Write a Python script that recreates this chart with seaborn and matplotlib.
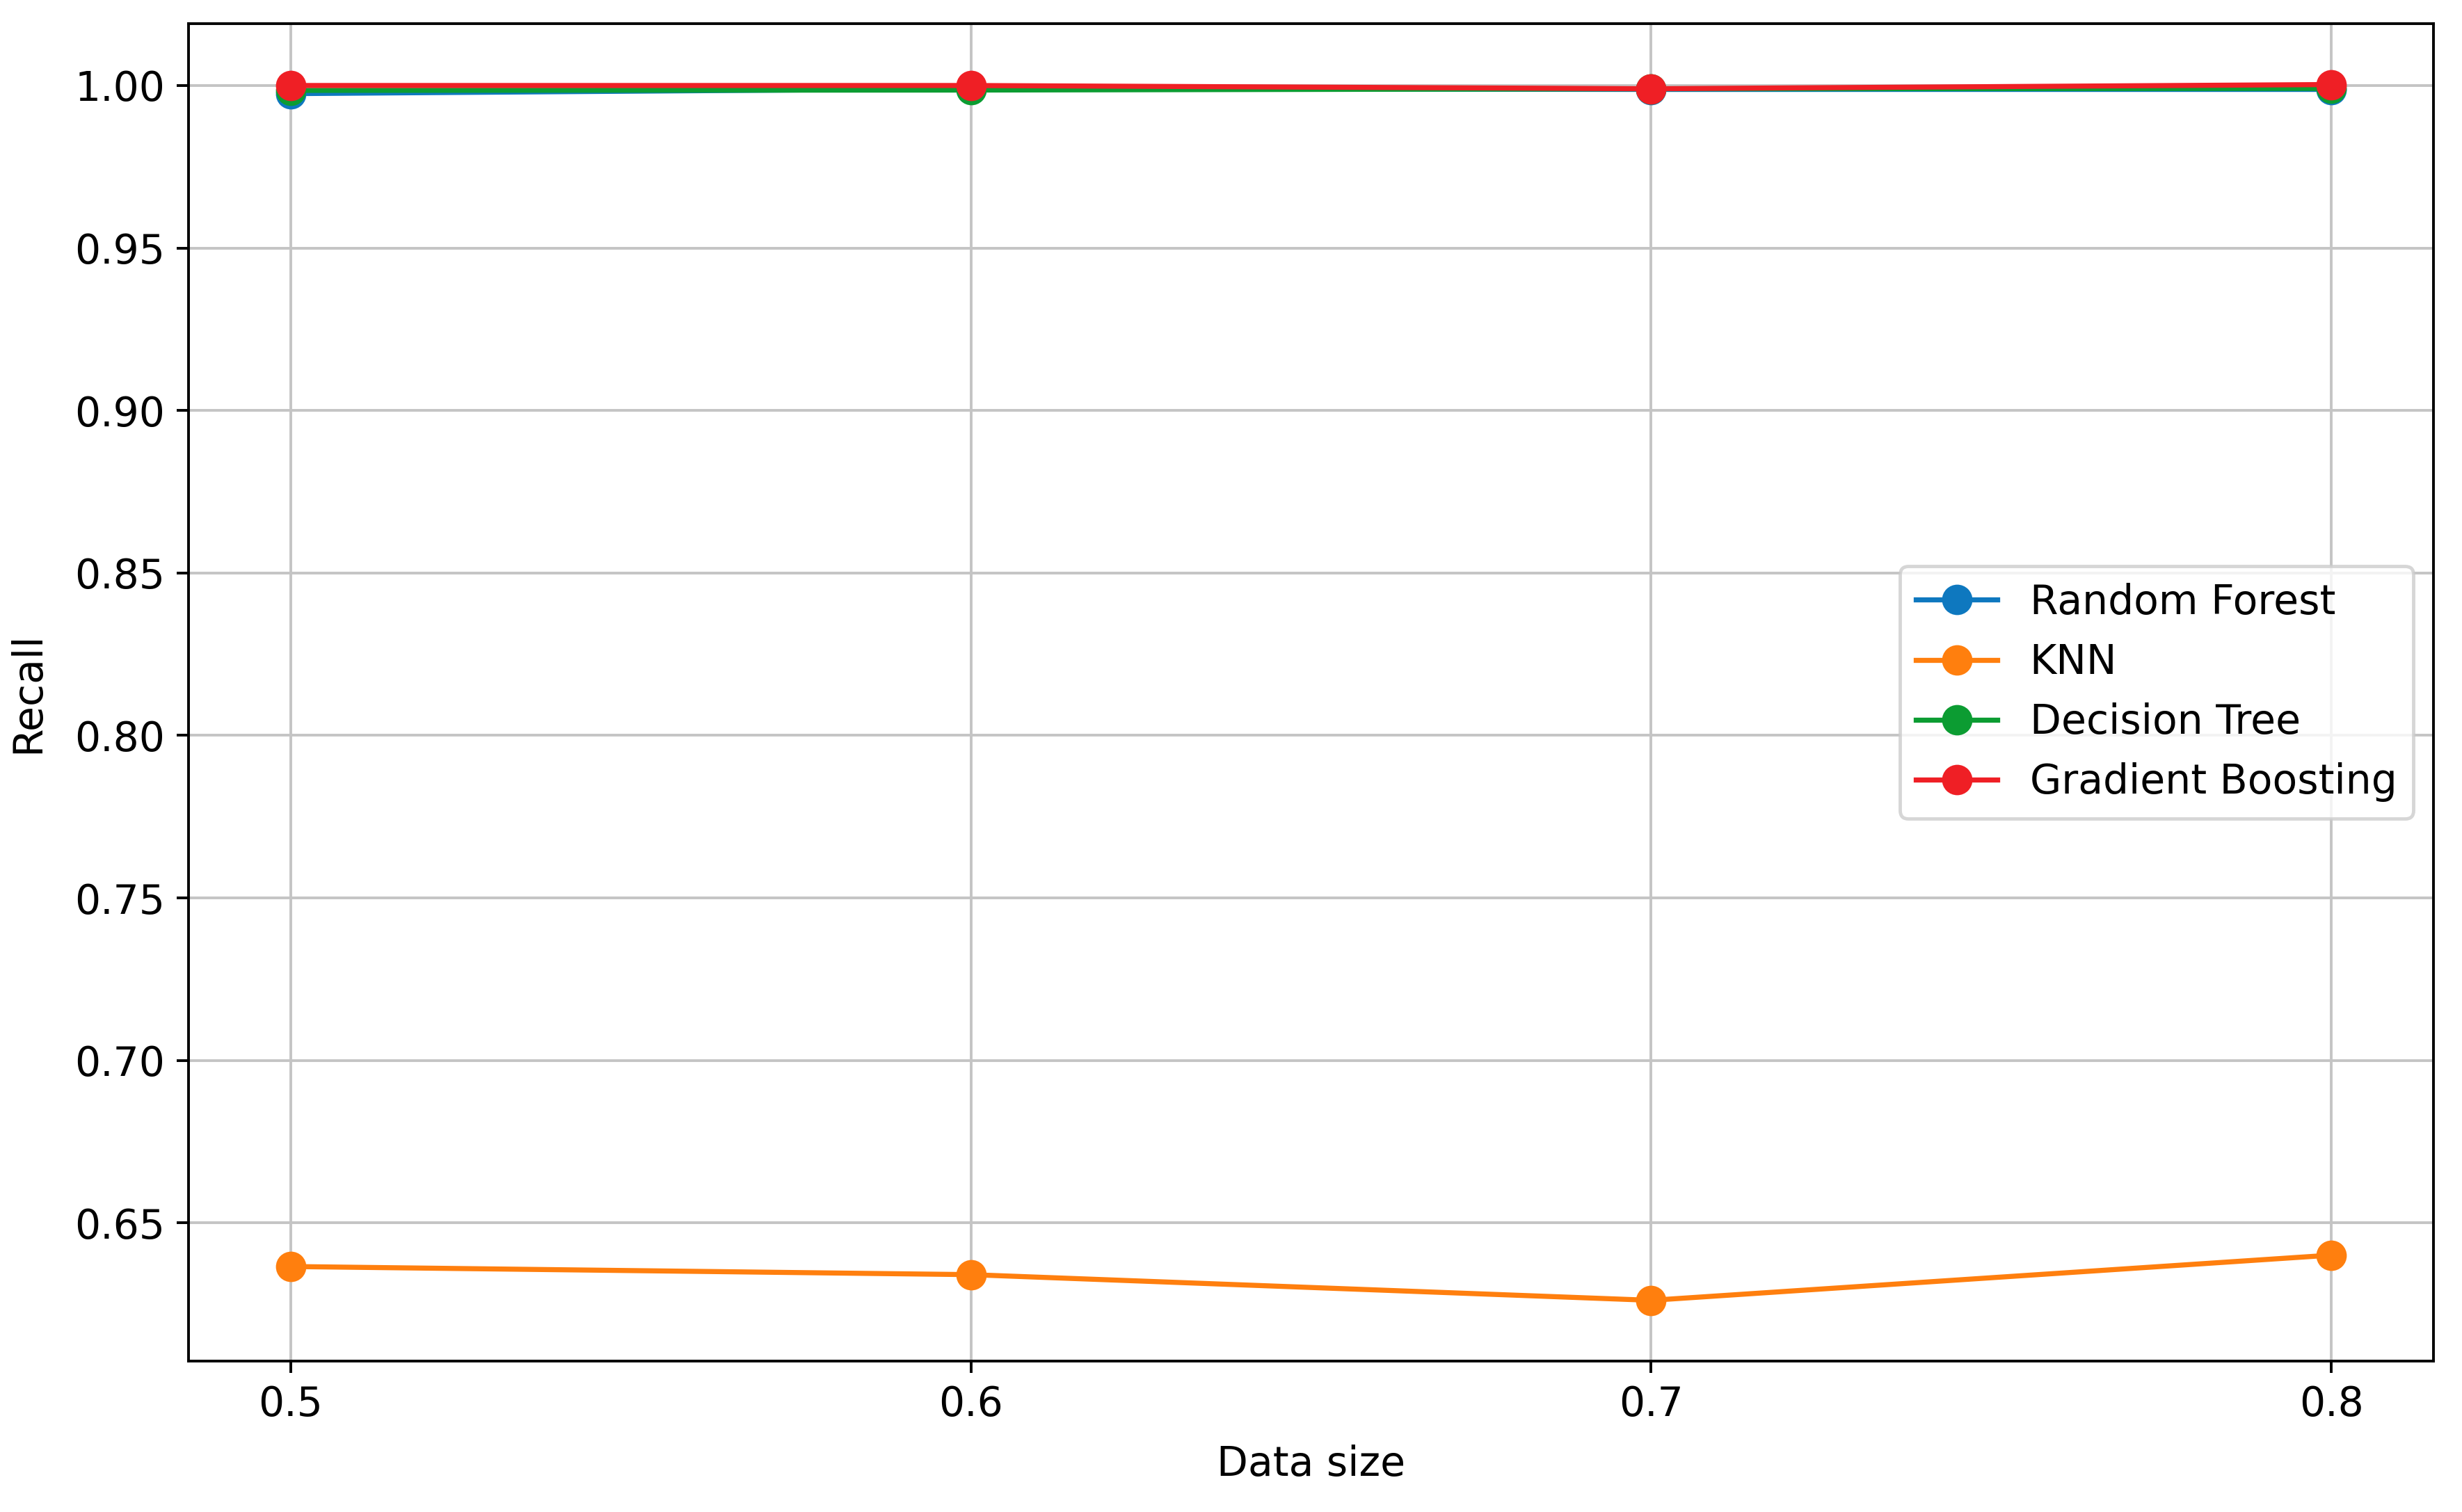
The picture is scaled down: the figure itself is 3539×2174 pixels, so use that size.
import pandas as pd
import seaborn as sns
import matplotlib.pyplot as plt

# recall of each model for different training data sizes
data_size = [0.5, 0.6, 0.7, 0.8]
models = ['Random Forest', 'KNN', 'Decision Tree', 'Gradient Boosting']
rf_recall = [0.9975, 0.9990, 0.9988, 0.9988]
knn_recall = [0.6366, 0.6341, 0.6262, 0.6401]
dt_recall = [0.9985, 0.9986, 0.9990, 0.9991]
gb_recall = [1.0000, 1.0000, 0.9990, 1.0003]
colors = ['#0e78bf', '#ff7f0e', '#0c9c32', '#ef1f25']

recall = [rf_recall, knn_recall, dt_recall, gb_recall]

plt.rcParams['font.size'] = 12
fig = plt.figure(figsize=(3539/350, 2174/350), dpi=350)
ax = fig.add_axes([0.0766, 0.0998, 0.9118, 0.8845])

for name, vals, c in zip(models, recall, colors):
    df = pd.DataFrame({'Data size': data_size, 'Recall': vals})
    sns.lineplot(data=df, x='Data size', y='Recall', ax=ax, color=c, label=name,
                 marker='o', markersize=9, markeredgewidth=0, linewidth=1.5)

ax.set_xticks(data_size)
ax.set_xticklabels([str(x) for x in data_size])
ax.set_xlabel("Data size", labelpad=6)
ax.set_ylabel("Recall", labelpad=8)
ax.grid(True, color='#c4c4c4')
ax.legend(loc='center right')
fig.savefig('out.png', dpi=350)
